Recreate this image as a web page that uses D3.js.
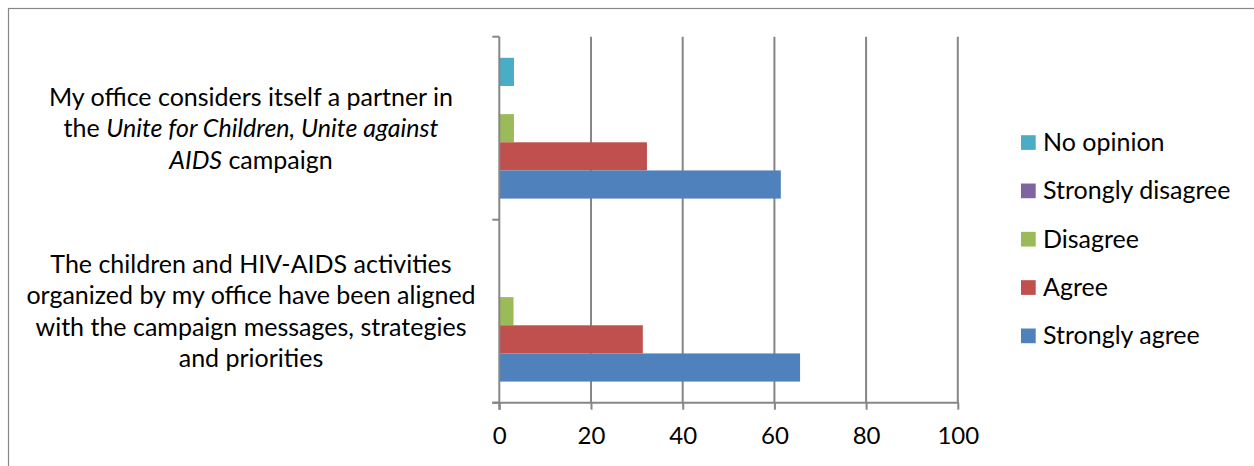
<!DOCTYPE html>
<html>
<head>
<meta charset="utf-8">
<script src="https://cdn.jsdelivr.net/npm/d3@7"></script>
<style>
  html, body { margin: 0; padding: 0; background: #fff; }
  svg { display: block; }
  text { font-family: Lato, "Open Sans", sans-serif; fill: #000; }
</style>
</head>
<body>
<svg id="chart" width="1254" height="466"></svg>
<script>
// Survey statements (top to bottom)
const categories = ["partner", "aligned"];

// Wrapped label lines; each line is a list of [text, italic] segments
const categoryLines = [
  [
    [["My office considers itself a partner in", false]],
    [["the ", false], ["Unite for Children, Unite against", true]],
    [["AIDS", true], [" campaign", false]]
  ],
  [
    [["The children and HIV-AIDS activities", false]],
    [["organized by my office have been aligned", false]],
    [["with the campaign messages, strategies", false]],
    [["and priorities", false]]
  ]
];

// Response series, in stacking order within each group (top to bottom)
const seriesNames = ["No opinion", "Strongly disagree", "Disagree", "Agree", "Strongly agree"];
const seriesColors = ["#4BACC6", "#8064A2", "#9BBB59", "#C0504D", "#4F81BD"];

// Percentages per statement
const noOpinion = [3.2, 0];
const stronglyDisagree = [0, 0];
const disagree = [3.2, 3.1];
const agree = [32.2, 31.3];
const stronglyAgree = [61.4, 65.6];
const seriesValues = [noOpinion, stronglyDisagree, disagree, agree, stronglyAgree];

const xTicks = [0, 20, 40, 60, 80, 100];

const svg = d3.select("#chart");
const plot = { left: 499.3, right: 957.8, top: 36.7, bottom: 402.7 };
const axisColor = "#868686";

// Outer chart frame
svg.append("rect")
  .attr("x", 8.5).attr("y", 8.5)
  .attr("width", 1300).attr("height", 600)
  .attr("fill", "none").attr("stroke", axisColor).attr("stroke-width", 1.2);

const x = d3.scaleLinear().domain([0, 100]).range([plot.left, plot.right]);
const y = d3.scaleBand().domain(categories).range([plot.top, plot.bottom]);
const ySeries = d3.scaleBand().domain(seriesNames)
  .range([0, y.bandwidth()]).paddingInner(0).paddingOuter(0.75);

// Vertical gridlines
svg.append("g").selectAll("line")
  .data(xTicks.filter(t => t > 0))
  .join("line")
  .attr("x1", d => x(d)).attr("x2", d => x(d))
  .attr("y1", plot.top).attr("y2", plot.bottom)
  .attr("stroke", axisColor).attr("stroke-width", 2);

// Bars
const groups = svg.append("g").selectAll("g")
  .data(seriesNames)
  .join("g")
  .attr("fill", (d, i) => seriesColors[i]);

groups.each(function (name, si) {
  d3.select(this).selectAll("rect")
    .data(categories.map((c, ci) => ({ c, v: seriesValues[si][ci] })))
    .join("rect")
    .filter(d => d.v > 0)
    .attr("x", x(0))
    .attr("y", d => y(d.c) + ySeries(name))
    .attr("width", d => x(d.v) - x(0))
    .attr("height", ySeries.bandwidth());
});

// Bottom axis
const xAxis = d3.axisBottom(x).tickValues(xTicks).tickSize(7).tickPadding(17);
const gx = svg.append("g")
  .attr("transform", `translate(0,${plot.bottom})`)
  .call(xAxis);
gx.select(".domain").remove();
gx.selectAll(".tick line").attr("stroke", axisColor).attr("stroke-width", 2);
gx.selectAll(".tick text")
  .attr("font-size", 24).attr("font-family", "Lato, sans-serif").attr("fill", "#000");
svg.append("line")
  .attr("x1", plot.left - 7).attr("x2", plot.right + 1)
  .attr("y1", plot.bottom).attr("y2", plot.bottom)
  .attr("stroke", axisColor).attr("stroke-width", 2);

// Left axis with category boundary ticks
svg.append("line")
  .attr("x1", plot.left).attr("x2", plot.left)
  .attr("y1", plot.top).attr("y2", plot.bottom + 7)
  .attr("stroke", axisColor).attr("stroke-width", 2);
const boundaries = categories.map(c => y(c)).concat([plot.bottom]);
svg.append("g").selectAll("line")
  .data(boundaries)
  .join("line")
  .attr("x1", plot.left - 7).attr("x2", plot.left)
  .attr("y1", d => d).attr("y2", d => d)
  .attr("stroke", axisColor).attr("stroke-width", 2);

// Category labels, centred to the left of the axis
const lineHeight = 31.5;
const labelCx = 251;
categories.forEach((c, ci) => {
  const lines = categoryLines[ci];
  const mid = y(c) + y.bandwidth() / 2;
  const firstBase = mid - (lines.length - 1) * lineHeight / 2 + 9;
  const t = svg.append("text")
    .attr("text-anchor", "middle")
    .attr("font-size", 25);
  lines.forEach((segs, li) => {
    segs.forEach((seg, si) => {
      const ts = t.append("tspan")
        .text(seg[0])
        .attr("font-style", seg[1] ? "italic" : "normal");
      if (si === 0) ts.attr("x", labelCx).attr("y", firstBase + li * lineHeight);
    });
  });
});

// Legend
const legend = svg.append("g").attr("transform", "translate(1021,0)");
const legendY = d3.scalePoint().domain(seriesNames).range([142.5, 335.8]);
seriesNames.forEach((name, i) => {
  legend.append("rect")
    .attr("x", 0).attr("y", legendY(name) - 7.3)
    .attr("width", 14.7).attr("height", 14.7)
    .attr("fill", seriesColors[i]);
  legend.append("text")
    .attr("x", 22).attr("y", legendY(name) + 8.5)
    .attr("font-size", 25)
    .text(name);
});
</script>
</body>
</html>
